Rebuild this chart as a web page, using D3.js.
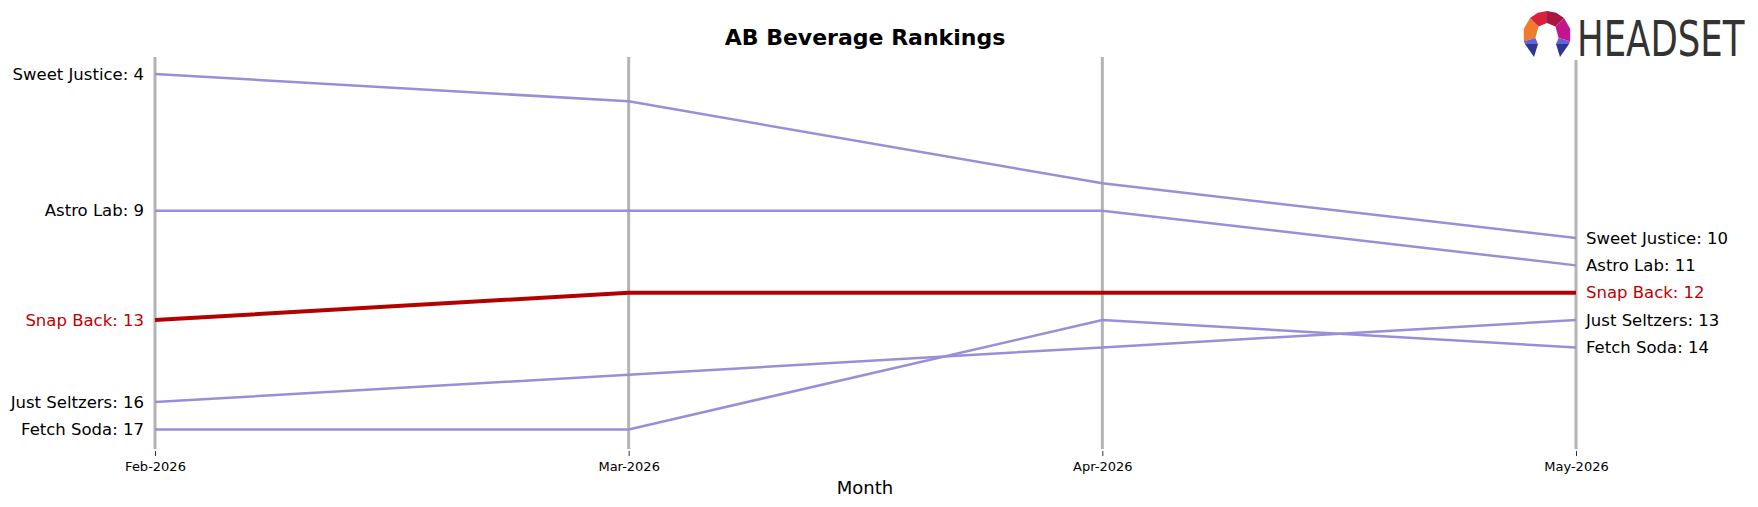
<!DOCTYPE html>
<html lang="en">
<head>
  <meta charset="UTF-8">
  <title>AB Beverage Rankings</title>
  <style>
    body { margin: 0; background: #fff; }
    svg { display: block; }
    .label { font-family: "DejaVu Sans", sans-serif; font-size: 16.5px; }
  </style>
</head>
<body>
  <svg id="chart" width="1758" height="507"></svg>
  <script src="https://d3js.org/d3.v7.min.js"></script>
  <script>
    const months = ["Feb-2026", "Mar-2026", "Apr-2026", "May-2026"];
    const brands = ["Sweet Justice", "Astro Lab", "Snap Back", "Just Seltzers", "Fetch Soda"];
    const sweetJustice = [4, 5, 8, 10];
    const astroLab = [9, 9, 9, 11];
    const snapBack = [13, 12, 12, 12];
    const justSeltzers = [16, 15, 14, 13];
    const fetchSoda = [17, 17, 13, 14];
    const highlight = "Snap Back";

    const series = [sweetJustice, astroLab, snapBack, justSeltzers, fetchSoda]
      .map((vals, i) => ({ name: brands[i], values: vals }));

    const svg = d3.select("#chart");

    const x = d3.scalePoint().domain(months).range([155, 1576]);
    const y = d3.scaleLinear().domain([4, 17]).range([74, 429.4]);

    // vertical grid lines at each month
    svg.append("g")
      .selectAll("line")
      .data(months)
      .join("line")
      .attr("x1", d => x(d)).attr("x2", d => x(d))
      .attr("y1", 57).attr("y2", 449)
      .attr("stroke", "#b4b4b4")
      .attr("stroke-width", 3);

    // x axis (ticks only, no domain line)
    const xAxis = svg.append("g")
      .attr("transform", "translate(0,451)")
      .call(d3.axisBottom(x).tickSize(5).tickPadding(6));
    xAxis.select(".domain").remove();
    xAxis.selectAll(".tick line").attr("stroke", "#000").attr("stroke-width", 0.8);
    xAxis.selectAll(".tick text")
      .attr("fill", "#000")
      .style("font-size", "13px")
      .style("font-family", "DejaVu Sans, sans-serif");

    const line = d3.line()
      .x((d, i) => x(months[i]))
      .y(d => y(d));

    const ordered = series.filter(s => s.name !== highlight)
      .concat(series.filter(s => s.name === highlight));

    svg.append("g")
      .selectAll("path")
      .data(ordered)
      .join("path")
      .attr("d", d => line(d.values))
      .attr("fill", "none")
      .attr("stroke", d => d.name === highlight ? "#b30000" : "#9b8ed8")
      .attr("stroke-width", d => d.name === highlight ? 4 : 2.5);

    // left labels
    svg.append("g")
      .selectAll("text")
      .data(series)
      .join("text")
      .attr("class", "label")
      .attr("x", x(months[0]) - 11)
      .attr("y", d => y(d.values[0]))
      .attr("dy", "0.35em")
      .attr("text-anchor", "end")
      .attr("fill", d => d.name === highlight ? "#c00000" : "#000")
      .text(d => `${d.name}: ${d.values[0]}`);

    // right labels
    const last = months.length - 1;
    svg.append("g")
      .selectAll("text")
      .data(series)
      .join("text")
      .attr("class", "label")
      .attr("x", x(months[last]) + 10)
      .attr("y", d => y(d.values[last]))
      .attr("dy", "0.35em")
      .attr("fill", d => d.name === highlight ? "#c00000" : "#000")
      .text(d => `${d.name}: ${d.values[last]}`);

    // title
    svg.append("text")
      .attr("x", 865).attr("y", 37)
      .attr("dy", "0.35em")
      .attr("text-anchor", "middle")
      .style("font-family", "DejaVu Sans, sans-serif")
      .style("font-weight", "bold")
      .style("font-size", "22px")
      .text("AB Beverage Rankings");

    // x axis title
    svg.append("text")
      .attr("x", 865).attr("y", 488)
      .attr("dy", "0.35em")
      .attr("text-anchor", "middle")
      .style("font-family", "DejaVu Sans, sans-serif")
      .style("font-size", "18px")
      .text("Month");

    // logo
    const logo = svg.append("g");
    logo.append("rect").attr("x", 1515).attr("y", 8).attr("width", 243).attr("height", 52).attr("fill", "#fff");
    const cx = 1547, cy = 35, R = 24, r = 12;
    const pt = (rad, a) => [cx + rad * Math.cos(a * Math.PI / 180), cy + rad * Math.sin(a * Math.PI / 180)];
    const poly = (pts, c) => logo.append("polygon")
      .attr("points", pts.map(q => q.join(",")).join(" ")).attr("fill", c);
    const segs = [
      { a0: 165, a1: 225, c: "#f07b2c" },
      { a0: 225, a1: 270, c: "#d8223c" },
      { a0: 270, a1: 315, c: "#a8173f" },
      { a0: 315, a1: 375, c: "#c3168c" }
    ];
    segs.forEach(s => {
      poly([pt(R, s.a0), pt(R, (s.a0 + s.a1) / 2), pt(R, s.a1), pt(r, s.a1), pt(r, s.a0)], s.c);
    });
    // legs
    poly([pt(R, 165), pt(r, 165), [cx - 9, cy + 9], [cx - 22, cy + 9]], "#6461d9");
    poly([[cx - 22, cy + 9], [cx - 9, cy + 9], [cx - 13, cy + 22]], "#2e3594");
    poly([pt(R, 15), pt(r, 15), [cx + 9, cy + 9], [cx + 22, cy + 9]], "#6461d9");
    poly([[cx + 22, cy + 9], [cx + 9, cy + 9], [cx + 13, cy + 22]], "#2e3594");

    logo.append("text")
      .attr("transform", "translate(1577,56) scale(1,1.38)")
      .style("font-family", "DejaVu Sans, sans-serif")
      .style("font-size", "35.5px")
      .attr("fill", "#333")
      .text("HEADSET");
  </script>
</body>
</html>
